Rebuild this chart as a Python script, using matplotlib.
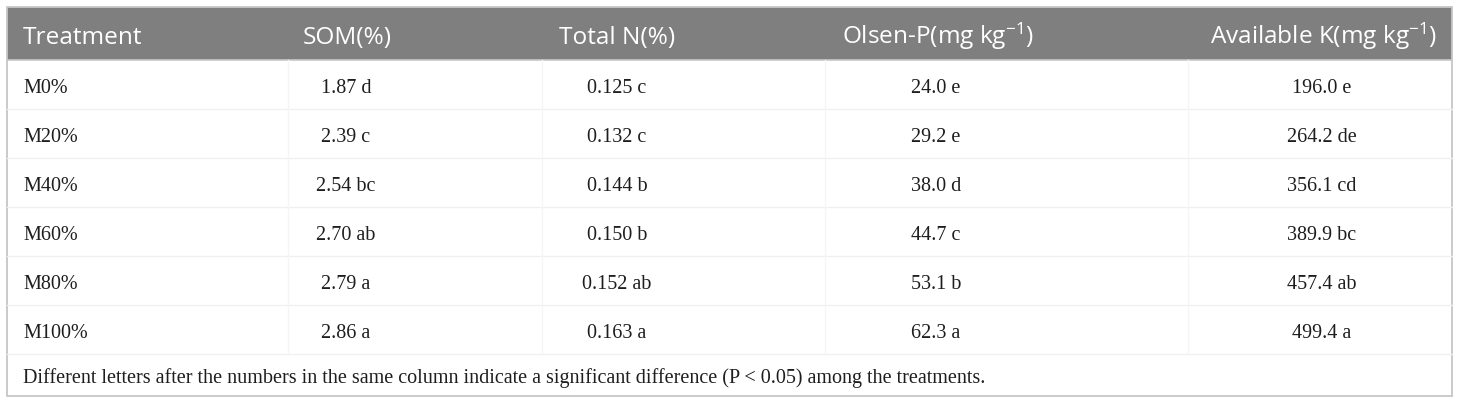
import matplotlib
matplotlib.use("Agg")
import matplotlib.pyplot as plt
from matplotlib.patches import Rectangle

# table data
treatments = ["M0%", "M20%", "M40%", "M60%", "M80%", "M100%"]
som = [1.87, 2.39, 2.54, 2.70, 2.79, 2.86]
som_sig = ["d", "c", "bc", "ab", "a", "a"]
total_n = [0.125, 0.132, 0.144, 0.150, 0.152, 0.163]
total_n_sig = ["c", "c", "b", "b", "ab", "a"]
olsen_p = [24.0, 29.2, 38.0, 44.7, 53.1, 62.3]
olsen_p_sig = ["e", "e", "d", "c", "b", "a"]
avail_k = [196.0, 264.2, 356.1, 389.9, 457.4, 499.4]
avail_k_sig = ["e", "de", "cd", "bc", "ab", "a"]
headers = ["Treatment", "SOM(%)", "Total N(%)",
           r"Olsen-P(mg kg$^{-1}$)", r"Available K(mg kg$^{-1}$)"]
footnote = ("Different letters after the numbers in the same column indicate a "
            "significant difference (P < 0.05) among the treatments.")

plt.rcParams["mathtext.fontset"] = "custom"
plt.rcParams["mathtext.rm"] = "Open Sans"
plt.rcParams["mathtext.it"] = "Open Sans:italic"

W, H = 1460, 405
fig = plt.figure(figsize=(W / 100, H / 100), dpi=100)
ax = fig.add_axes([0, 0, 1, 1])
ax.set_xlim(0, W)
ax.set_ylim(H, 0)
ax.axis("off")

left, right, top, bottom = 7, 1452, 7, 396
head_bot = 60
row_h = 49

# header band + outer frame
ax.add_patch(Rectangle((left, top), right - left, head_bot - top, color="#7f7f7f", lw=0))
ax.add_patch(Rectangle((left, top), right - left, bottom - top,
                       fill=False, ec="#c6c6c6", lw=1.3))
ax.plot([left, right], [head_bot, head_bot], color="#c8c8c8", lw=1.2)

# column layout
col_x = [23, 346, 617, 936, 1322]
head_x = [23, 347, 617, 938, 1437]
head_ha = ["left", "center", "center", "center", "right"]
sep_x = [288, 542, 825, 1188]

for x, ha, h in zip(head_x, head_ha, headers):
    ax.text(x, 44, h, ha=ha, va="baseline", color="white",
            fontsize=17.6, family="Open Sans")

columns = [
    [f"{v:.2f} {s}" for v, s in zip(som, som_sig)],
    [f"{v:.3f} {s}" for v, s in zip(total_n, total_n_sig)],
    [f"{v:.1f} {s}" for v, s in zip(olsen_p, olsen_p_sig)],
    [f"{v:.1f} {s}" for v, s in zip(avail_k, avail_k_sig)],
]

serif = dict(fontsize=14.5, family="Liberation Serif", color="#1e1e1e")
for i, t in enumerate(treatments):
    yb = head_bot + row_h * i + 33
    ax.text(col_x[0], yb, t, ha="left", va="baseline", **serif)
    for j, col in enumerate(columns):
        ax.text(col_x[j + 1], yb, col[i], ha="center", va="baseline", **serif)
    ax.plot([left, right], [head_bot + row_h * (i + 1)] * 2, color="#f0f0f0", lw=1)

for x in sep_x:
    ax.plot([x, x], [head_bot, head_bot + row_h * len(treatments)],
            color="#f5f5f5", lw=1)

ax.text(col_x[0], 383, footnote, ha="left", va="baseline", **serif)

fig.savefig("out.png", dpi=100)
